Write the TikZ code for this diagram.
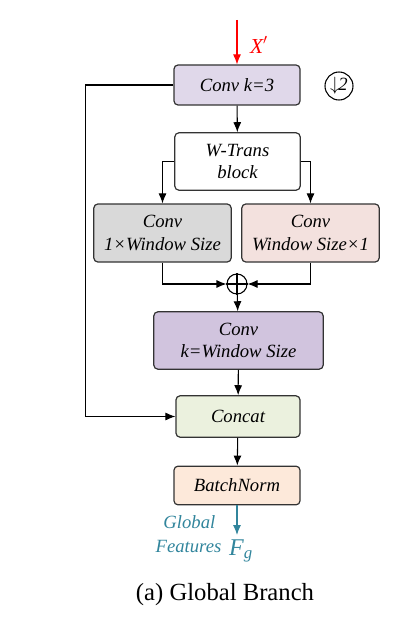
\documentclass[tikz,border=0pt]{standalone}
\usepackage{fontspec}
\setmainfont{Liberation Serif}
\usetikzlibrary{arrows.meta}
\definecolor{convlav}{HTML}{E0D8EA}
\definecolor{convgray}{HTML}{D9D9D9}
\definecolor{convpink}{HTML}{F3E1DE}
\definecolor{convpurple}{HTML}{D1C4DE}
\definecolor{catgreen}{HTML}{EBF1DE}
\definecolor{bnpeach}{HTML}{FDE9DA}
\definecolor{featteal}{HTML}{31859C}

\begin{document}
\begin{tikzpicture}[x=0.75pt, y=-0.75pt, >={Latex[length=7.5pt,width=6pt]},
  block/.style={draw=black!80, rounded corners=3pt, line width=0.9pt,
    font=\itshape\fontsize{14}{17}\selectfont, align=center, inner sep=0pt},
  flow/.style={->, line width=0.8pt}]

\useasboundingbox (0,0) rectangle (411,624);

\node[block, fill=convlav, minimum width=94.5pt, minimum height=30pt] (conv3) at (237,85) {Conv k=3};
\node[block, fill=white, minimum width=94pt, minimum height=43pt] (wtrans) at (237.5,161.5) {W-Trans\\block};
\node[block, fill=convgray, minimum width=103pt, minimum height=43.5pt] (convrow) at (162.5,233) {Conv\\1×Window Size};
\node[block, fill=convpink, minimum width=103pt, minimum height=43.5pt] (convcol) at (310.5,233) {Conv\\Window Size×1};
\node[draw, circle, line width=0.8pt, minimum size=15pt, inner sep=0pt] (add) at (237,284) {};
\node[block, fill=convpurple, minimum width=127pt, minimum height=43pt] (convwin) at (238.5,340.5) {Conv\\k=Window Size};
\node[block, fill=catgreen, minimum width=93pt, minimum height=31pt] (concat) at (238,416.5) {Concat};
\node[block, fill=bnpeach, minimum width=94.5pt, minimum height=29pt] (bnorm) at (237,485.5) {BatchNorm};

% input and down-sampling mark
\coordinate (xin) at (237,20);
\node[red, font=\itshape\fontsize{16}{18}\selectfont] (xlab) at (259,45) {X$'$};
\node[draw, circle, line width=0.8pt, minimum size=21pt, inner sep=0pt,
  font=\fontsize{14}{16}\selectfont] (down) at (339,86) {$\downarrow$\hspace{-1pt}\textit{2}};

% plus sign
\draw[line width=0.8pt] (add.north) -- (add.south) (add.west) -- (add.east);

\draw[flow, red] (xin) -- (conv3.north);
\draw[flow] (conv3) -- (wtrans);
\draw[flow] (wtrans.west) -| (convrow.north);
\draw[flow] (wtrans.east) -| (convcol.north);
\draw[flow] (convrow.south) |- (add.west);
\draw[flow] (convcol.south) |- (add.east);
\draw[flow] (add) -- (convwin);
\draw[flow] (convwin) -- (concat);
\draw[flow] (conv3.west) -- ++(-88,0) |- (concat.west);
\draw[flow] (concat) -- (bnorm);

% output
\coordinate (fout) at (237,535);
\draw[flow, featteal] (bnorm.south) -- (fout);
\node[featteal, font=\itshape\fontsize{14}{16}\selectfont, anchor=east] (glab) at (220,522) {Global};
\node[featteal, font=\itshape\fontsize{14}{16}\selectfont, anchor=east] (flab) at (226,546) {Features};
\node[featteal, font=\fontsize{18}{20}\selectfont] (fg) at (241,551) {\textit{F}\textsubscript{\textit{g}}};

\node[font=\fontsize{18.5}{22}\selectfont] (cap) at (225,595) {(a) Global Branch};

\end{tikzpicture}
\end{document}
